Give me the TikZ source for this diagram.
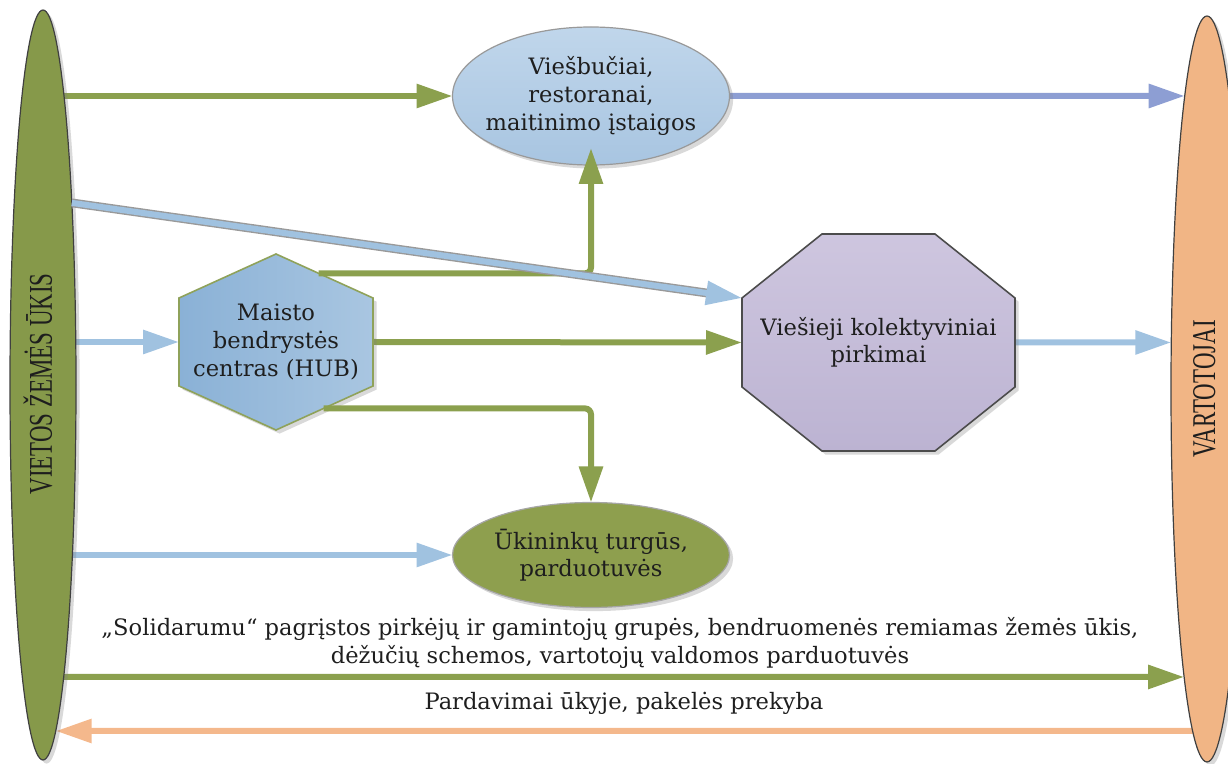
\documentclass[tikz,border=0pt]{standalone}
\usepackage{fontspec}
\setmainfont{DejaVu Serif}
\newfontfamily\capfont{Liberation Serif}
\usetikzlibrary{shapes.geometric,arrows.meta,calc,intersections,shadows}
\pgfdeclarelayer{bg}\pgfdeclarelayer{mid}\pgfdeclarelayer{fore}
\pgfsetlayers{bg,mid,main,fore}
\definecolor{farmgreen}{HTML}{86994A}
\definecolor{consorange}{HTML}{F1B585}
\definecolor{topblueA}{HTML}{C0D6EB}
\definecolor{topblueB}{HTML}{A8C5E1}
\definecolor{mktgreen}{HTML}{8E9F4E}
\definecolor{hubA}{HTML}{8AB1D6}
\definecolor{hubB}{HTML}{A9C6E1}
\definecolor{hubline}{HTML}{8FA25A}
\definecolor{octA}{HTML}{CEC6DF}
\definecolor{octB}{HTML}{BCB3D2}
\definecolor{agreen}{HTML}{8BA04E}
\definecolor{ablue}{HTML}{A0C2E0}
\definecolor{aperi}{HTML}{8D9ED3}
\definecolor{aorange}{HTML}{F4B88C}
\definecolor{textcol}{HTML}{1E1E1E}
\tikzset{
  arr/.style={line width=3pt,-{Triangle[length=18pt,width=11.5pt]}},
  shad/.style={drop shadow={shadow xshift=1.8pt,shadow yshift=-1.8pt,opacity=.3}},
  txt/.style={align=center,text=textcol,inner sep=0pt},
  bigell/.style={ellipse,inner sep=0pt,outer sep=0pt,line width=0.6pt},
  rotlbl/.style={rotate=90,anchor=base,inner sep=0pt,text=textcol,font=\capfont\fontsize{16.6}{18}\selectfont},
  boxnode/.style={inner sep=0pt,outer sep=0pt,align=center,text=textcol},
}
\begin{document}
\begin{tikzpicture}[x=0.5pt,y=-0.5pt,font=\fontsize{11.3}{13.8}\selectfont]
\useasboundingbox (0,0) rectangle (1228,764);

% ---- main shapes
\node[bigell,shad,fill=farmgreen,draw=black!75,minimum width=33pt,minimum height=375pt] (farm) at (43,385) {};
\node[bigell,shad,fill=consorange,draw=black!75,minimum width=36pt,minimum height=373pt] (cons) at (1207,389) {};
\node[bigell,shad,top color=topblueA,bottom color=topblueB,draw=black!40,minimum width=138.5pt,minimum height=69pt] (top) at (591,96) {};
\node[bigell,shad,fill=mktgreen,draw=black!35,minimum width=138.5pt,minimum height=52.5pt] (mkt) at (591,555) {};
\node[boxnode,minimum width=97pt,minimum height=44pt] (hub) at (276,342) {Maisto\\bendrystės\\centras (HUB)};
\node[boxnode,minimum width=136.5pt,minimum height=108.5pt] (oct) at (878.5,342.5) {Viešieji kolektyviniai\\pirkimai};

% labels
\node[rotlbl] (farmlbl) at (52,384) {\scalebox{0.69}[1]{VIETOS ŽEMĖS ŪKIS}};
\node[rotlbl] (conslbl) at (1215,389) {\scalebox{0.69}[1]{VARTOTOJAI}};
\node[txt] (toplbl) at (top.center) {Viešbučiai,\\restoranai,\\maitinimo įstaigos};
\node[txt] (mktlbl) at (mkt.center) {Ūkininkų turgūs,\\parduotuvės};
\node[txt] (sol) at (620,643) {„Solidarumu“ pagrįstos pirkėjų ir gamintojų grupės, bendruomenės remiamas žemės ūkis,\\dėžučių schemos, vartotojų valdomos parduotuvės};
\node[txt] (pard) at (624,703) {Pardavimai ūkyje, pakelės prekyba};

% polygon corners
\coordinate (hN) at ($(hub.north)+(0,-44)$);
\coordinate (hS) at ($(hub.south)+(0,44)$);
\coordinate (o1) at ($(oct.north west)+(80,0)$);
\coordinate (o2) at ($(oct.north east)+(-80,0)$);
\coordinate (o3) at ($(oct.north east)+(0,64)$);
\coordinate (o4) at ($(oct.south east)+(0,-64)$);
\coordinate (o5) at ($(oct.south east)+(-80,0)$);
\coordinate (o6) at ($(oct.south west)+(80,0)$);
\coordinate (o7) at ($(oct.south west)+(0,-64)$);
\coordinate (o8) at ($(oct.north west)+(0,64)$);

\begin{pgfonlayer}{mid}
\path[shad,left color=hubA,right color=hubB,draw=hubline,line width=0.8pt]
  (hN) -- (hub.north east) -- (hub.south east) -- (hS) -- (hub.south west) -- (hub.north west) -- cycle;
\path[shad,top color=octA,bottom color=octB,draw=black!70,line width=0.8pt]
  (o1) -- (o2) -- (o3) -- (o4) -- (o5) -- (o6) -- (o7) -- (o8) -- cycle;
\end{pgfonlayer}

% border paths for end points
\path[name path=consP] (cons.center) ellipse [x radius=18pt,y radius=186.5pt];
\path[name path=farmP] (farm.center) ellipse [x radius=16.5pt,y radius=187.5pt];
\coordinate (r10) at (620,677);
\coordinate (r11) at (620,731);
\path[name path=l2] (top.east) -- (cons.center |- top.east);
\path[name path=l8] (oct.east) -- (cons.center |- oct.east);
\path[name path=l10] (farm.center |- r10) -- (cons.center |- r10);
\path[name path=l11] (cons.center |- r11) -- (farm.center |- r11);
\path[name intersections={of=consP and l2,by=e2}];
\path[name intersections={of=consP and l8,by=e8}];
\path[name intersections={of=consP and l10,by=e10}];
\path[name intersections={of=farmP and l11,by=e11}];
\coordinate (h5) at ($(hN)!0.44!(hub.north east)$);
\coordinate (h7) at ($(hub.south east)!0.51!(hS)$);

% ---- connectors
\begin{pgfonlayer}{bg}
\draw[arr,agreen] (farm.center |- top.west) -- (top.west);
\draw[arr,aperi] (top.east) -- (e2);
\draw[arr,ablue] (farm.center |- hub.west) -- (hub.west);
\draw[arr,agreen] (hub.east) -- (oct.west);
\draw[arr,ablue] (oct.east) -- (e8);
\draw[arr,ablue] (farm.center |- mkt.west) -- (mkt.west);
\draw[arr,agreen] (farm.center |- r10) -- (e10);
\draw[arr,aorange] (cons.center |- r11) -- (e11);
\end{pgfonlayer}
\begin{pgfonlayer}{fore}
\draw[arr,agreen,rounded corners=3pt] (h5) -| ($(top.south)+(0,-17)$);
\draw[arr,agreen,rounded corners=3pt] (h7) -| (mkt.north);
\draw[arr,ablue,preaction={draw=black!40,line width=4.4pt,-,shorten >=12pt}] (farm.81) -- (o8);
\end{pgfonlayer}
\end{tikzpicture}
\end{document}
